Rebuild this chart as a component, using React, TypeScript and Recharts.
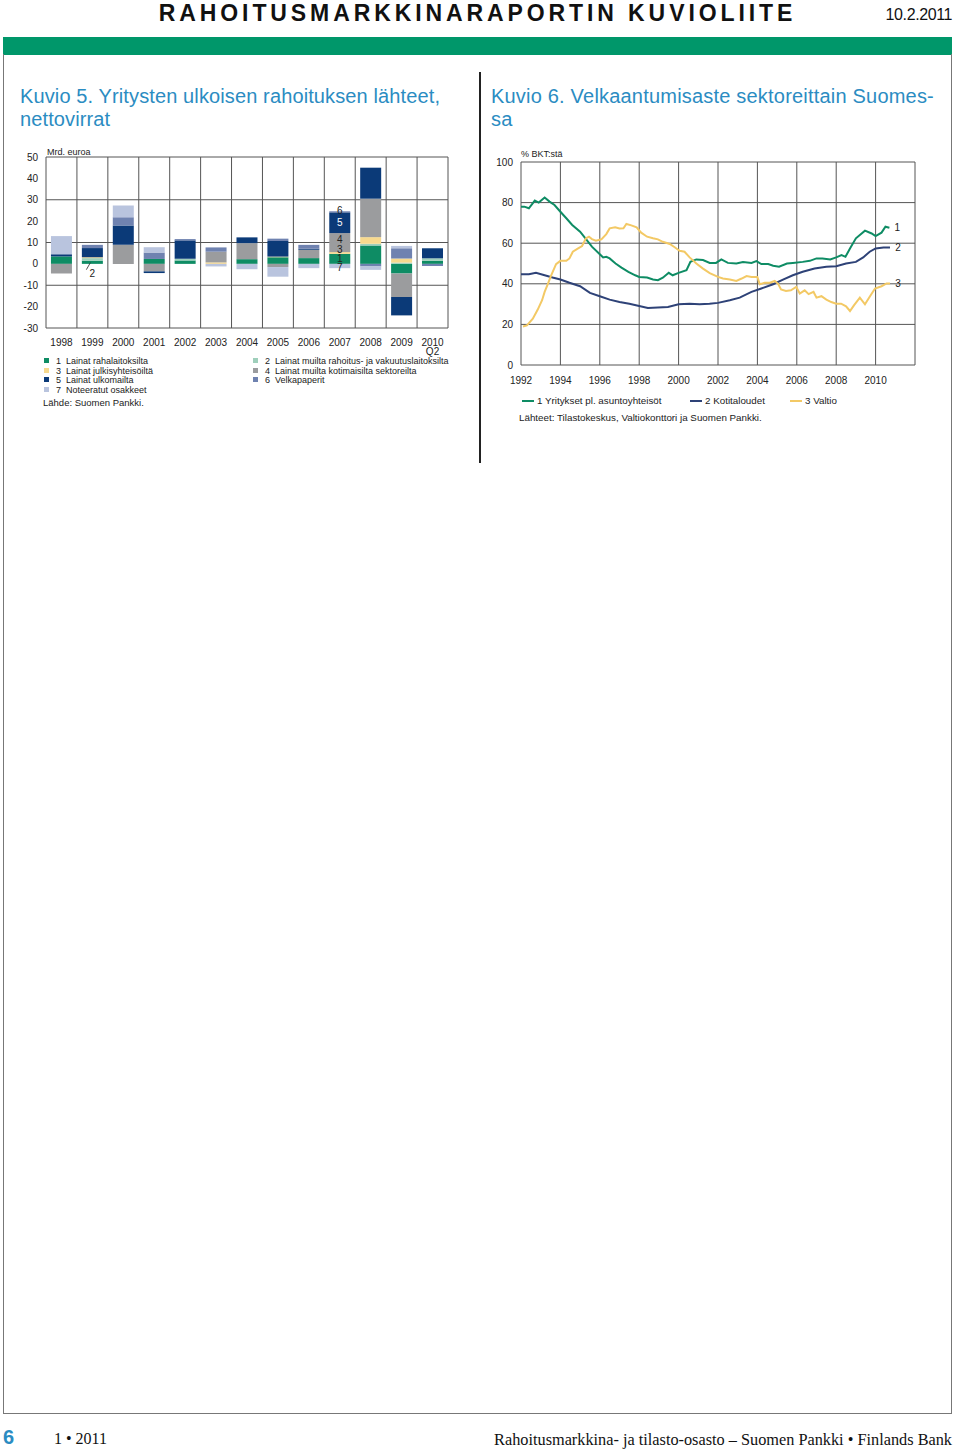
import React from "react";
import {
  BarChart,
  Bar,
  XAxis,
  YAxis,
  CartesianGrid,
  LabelList,
  LineChart,
  Line,
} from "recharts";

// Kuvio 5: net flows, bn euro
const YEARS = ["1998", "1999", "2000", "2001", "2002", "2003", "2004", "2005", "2006", "2007", "2008", "2009", "2010"];
const LOANS_MFI = [3.5, 1.5, 0, 2.3, 1.6, 0, 2.2, 3.1, 2.7, 4.7, 8.6, -4.5, 1.4];
const LOANS_OFI = [0, 1.2, 0, 0, 0.8, 0, 0, 0, 0, 0, 0.8, 0.6, 1.2];
const LOANS_PUBLIC = [0, 0.4, 0, 0, 0, 0.7, 0, 0.3, 0, 0.8, 3.1, 1.9, 0];
const LOANS_OTHER = [-4.5, 0, 8.9, -3.5, 0, 5.0, 7.5, -1.5, 3.9, 8.9, 18, -11, 0];
const LOANS_ABROAD = [1, 4.3, 9, -0.8, 8.6, 0, 2.7, 7.3, 0.5, 9.7, 14.5, -8.6, 4.7];
const DEBT_SECURITIES = [0, 1.5, 3.9, 3, 0.6, 2, 0, 1.1, 1.8, 0.5, -1.2, 4.8, -1];
const QUOTED_SHARES = [8.5, 0, 5.5, 2.5, 0, -1.2, -2.5, -4.5, -2, -2, -1.6, 1.1, 0];
const BAR_TICKS = [-30, -20, -10, 0, 10, 20, 30, 40, 50];

const BAR_SERIES = [
  { key: "s1", num: "1", name: "Lainat rahalaitoksilta", color: "#0e8c64", values: LOANS_MFI, labelYear: "2007" },
  { key: "s2", num: "2", name: "Lainat muilta rahoitus- ja vakuutuslaitoksilta", color: "#9fcfbb", values: LOANS_OFI, labelYear: "1999" },
  { key: "s3", num: "3", name: "Lainat julkisyhteisöiltä", color: "#f7d98e", values: LOANS_PUBLIC, labelYear: "2007" },
  { key: "s4", num: "4", name: "Lainat muilta kotimaisilta sektoreilta", color: "#9b9c9e", values: LOANS_OTHER, labelYear: "2007" },
  { key: "s5", num: "5", name: "Lainat ulkomailta", color: "#0b3a78", values: LOANS_ABROAD, labelYear: "2007" },
  { key: "s6", num: "6", name: "Velkapaperit", color: "#6f82b0", values: DEBT_SECURITIES, labelYear: "2007" },
  { key: "s7", num: "7", name: "Noteeratut osakkeet", color: "#b9c4de", values: QUOTED_SHARES, labelYear: "2007" },
];

// Kuvio 6: debt ratio, % of GDP
const CORP_YEARS = [1992, 1992.17, 1992.4, 1992.7, 1992.9, 1993.2, 1993.45, 1993.7, 1994, 1994.3, 1994.6, 1995, 1995.3, 1995.6, 1996, 1996.17, 1996.33, 1996.5, 1996.8, 1997.1, 1997.45, 1997.8, 1998, 1998.4, 1998.7, 1998.95, 1999.2, 1999.5, 1999.7, 2000, 2000.4, 2000.6, 2000.9, 2001.24, 2001.58, 2001.9, 2002.17, 2002.5, 2002.93, 2003.27, 2003.7, 2003.95, 2004.2, 2004.55, 2004.8, 2005.1, 2005.5, 2005.8, 2006.3, 2006.66, 2007, 2007.3, 2007.7, 2008, 2008.27, 2008.47, 2008.7, 2009, 2009.46, 2009.8, 2010, 2010.3, 2010.5, 2010.7];
const CORP_DEBT = [78, 78, 77.2, 81, 80, 82.5, 80.5, 78.8, 75.5, 72.3, 69, 65.7, 62, 58.3, 54.6, 53, 53.3, 52.5, 50, 48, 45.9, 44.2, 43.4, 43.1, 42.1, 41.8, 43, 45.4, 44.2, 45.4, 46.7, 50.8, 52, 51.7, 50.3, 50.3, 52, 50.3, 50, 50.7, 50.3, 51.2, 49.7, 49.7, 48.9, 48.4, 50, 50.3, 50.8, 51.3, 52.5, 52.5, 52, 53, 54.1, 53.3, 57.4, 62.4, 66.2, 64.8, 63.5, 65.2, 68.1, 67.6];
const HH_YEARS = [1992, 1992.4, 1992.76, 1993.2, 1993.6, 1994, 1994.46, 1995, 1995.5, 1996, 1996.5, 1997, 1997.5, 1998, 1998.44, 1998.95, 1999.46, 2000, 2000.56, 2001.07, 2001.57, 2002, 2002.6, 2003.1, 2003.7, 2004.2, 2004.8, 2005.3, 2005.8, 2006.3, 2006.9, 2007.5, 2008, 2008.5, 2009, 2009.37, 2009.7, 2010, 2010.4, 2010.73];
const HH_DEBT = [44.7, 44.7, 45.4, 44.2, 43.1, 42.1, 40.5, 38.8, 35.5, 33.9, 32.2, 31, 30.2, 29.1, 28.1, 28.3, 28.6, 29.9, 30.2, 29.9, 30.2, 30.6, 31.9, 33.2, 36, 37.7, 39.8, 42.1, 44.2, 45.9, 47.5, 48.4, 48.7, 50, 50.8, 53, 55.8, 57.4, 57.9, 57.9];
const GOV_YEARS = [1992.1, 1992.3, 1992.6, 1992.85, 1993.07, 1993.2, 1993.36, 1993.5, 1993.78, 1994, 1994.3, 1994.46, 1994.63, 1994.9, 1995.1, 1995.3, 1995.45, 1995.6, 1995.8, 1996.08, 1996.33, 1996.5, 1996.78, 1997, 1997.2, 1997.35, 1997.6, 1997.87, 1998.1, 1998.4, 1998.7, 1998.95, 1999.2, 1999.55, 1999.8, 2000.05, 2000.3, 2000.56, 2000.9, 2001.24, 2001.58, 2002, 2002.25, 2002.6, 2002.93, 2003.2, 2003.45, 2003.7, 2004, 2004.12, 2004.37, 2004.63, 2004.88, 2005.05, 2005.2, 2005.45, 2005.7, 2005.97, 2006.15, 2006.4, 2006.6, 2006.85, 2007, 2007.25, 2007.5, 2007.75, 2008, 2008.25, 2008.5, 2008.7, 2008.9, 2009.2, 2009.46, 2009.7, 2009.97, 2010.3, 2010.56, 2010.73];
const GOV_DEBT = [19, 19.5, 22.8, 27.3, 31.9, 36, 39.8, 43.4, 49.7, 51.3, 51.3, 52.5, 55.8, 57.4, 58.6, 62.4, 63.2, 62, 61.2, 61.9, 64.5, 67.3, 67.8, 67.2, 67.3, 69.5, 68.8, 67.8, 65.2, 63.2, 62.4, 61.9, 60.7, 59.6, 58, 56.3, 55.8, 53, 50, 47.5, 45.3, 43.4, 42.6, 42.1, 41.4, 42.6, 43.8, 43.4, 43.4, 39.8, 40.5, 40.5, 41.4, 40, 37.2, 36.5, 36.8, 38.5, 35.2, 36.8, 34.9, 36, 33.2, 33.9, 32.2, 31, 30.2, 30.2, 28.9, 26.6, 29.4, 33.2, 29.9, 33.6, 37.7, 38.8, 40.2, 40.2];
const LINE_X_TICKS = [1992, 1994, 1996, 1998, 2000, 2002, 2004, 2006, 2008, 2010, 2012];
const LINE_Y_TICKS = [0, 20, 40, 60, 80, 100];

const LINE_SERIES = [
  { num: "1", name: "Yritykset pl. asuntoyhteisöt", color: "#0e8c64", years: CORP_YEARS, values: CORP_DEBT },
  { num: "2", name: "Kotitaloudet", color: "#2e4277", years: HH_YEARS, values: HH_DEBT },
  { num: "3", name: "Valtio", color: "#f3c965", years: GOV_YEARS, values: GOV_DEBT },
];

const barData = YEARS.map((year, i) => {
  const row: Record<string, string | number> = { year };
  BAR_SERIES.forEach((s) => {
    row[s.key] = s.values[i];
    row[s.key + "_lbl"] = s.labelYear === year ? s.num : "";
  });
  return row;
});

const SANS = '"Liberation Sans", Arial, sans-serif';
const TEXT = "#222";
const GRID = "#555";
const TITLE_BLUE = "#2b8cc2";

const BarTick = ({ x, y, payload }: any) => (
  <text x={x} y={y} textAnchor="middle" fontSize={10} fill={TEXT} fontFamily={SANS}>
    <tspan x={x} dy={18}>{payload.value}</tspan>
    {payload.value === "2010" && <tspan x={x} dy={9}>Q2</tspan>}
  </text>
);

const LABEL_STYLE: Record<string, [number, string]> = {
  "1": [0, TEXT],
  "3": [-3, TEXT],
  "4": [-3, TEXT],
  "5": [0, "#fff"],
  "6": [-1, TEXT],
  "7": [1, TEXT],
};

// series numbers written on the bars
const BarNumber = (props: any) => {
  const { x, y, width, height, value } = props;
  if (!value) return null;
  const top = Math.min(y, y + height);
  const h = Math.abs(height);
  const cx = x + width / 2;
  if (value === "2") {
    const b = top + h;
    return (
      <g>
        <line x1={cx - 6} y1={b + 9} x2={cx - 2} y2={b + 2} stroke={TEXT} strokeWidth={0.8} />
        <text x={cx} y={b + 12.5} textAnchor="middle" dominantBaseline="central" fontSize={10} fill={TEXT} fontFamily={SANS}>2</text>
      </g>
    );
  }
  const [dy, fill] = LABEL_STYLE[value];
  return (
    <text x={cx} y={top + h / 2 + dy} textAnchor="middle" dominantBaseline="central" fontSize={10} fill={fill} fontFamily={SANS}>
      {value}
    </text>
  );
};

const endLabel = (num: string, last: number) => (props: any) => {
  const { x, y, index } = props;
  if (index !== last) return null;
  return (
    <text x={x + 8} y={y} textAnchor="middle" dominantBaseline="central" fontSize={10} fill={TEXT} fontFamily={SANS}>
      {num}
    </text>
  );
};

const FlowsChart = () => (
  <BarChart
    width={460}
    height={220}
    data={barData}
    margin={{ top: 17, right: 12, left: 0, bottom: 0 }}
    stackOffset="sign"
    barCategoryGap="16%"
  >
    <CartesianGrid
      stroke={GRID}
      strokeWidth={1}
      verticalCoordinatesGenerator={({ offset }: any) =>
        YEARS.concat("end").map((_, i) => offset.left + (i * offset.width) / YEARS.length)
      }
    />
    <XAxis dataKey="year" tick={<BarTick />} tickLine={false} axisLine={false} height={32} tickSize={0} tickMargin={0} interval={0} />
    <YAxis
      domain={[-30, 50]}
      ticks={BAR_TICKS}
      width={46}
      tickLine={false}
      axisLine={false}
      tick={{ fontSize: 10, fill: TEXT, fontFamily: SANS }}
    />
    {BAR_SERIES.map((s) => (
      <Bar key={s.key} dataKey={s.key} stackId="a" fill={s.color} isAnimationActive={false}>
        <LabelList dataKey={s.key + "_lbl"} content={<BarNumber />} />
      </Bar>
    ))}
  </BarChart>
);

const DebtChart = () => (
  <LineChart width={450} height={250} margin={{ top: 22, right: 15, left: 0, bottom: 0 }}>
    <CartesianGrid stroke={GRID} strokeWidth={1} />
    <XAxis
      type="number"
      dataKey="x"
      domain={[1992, 2012]}
      ticks={LINE_X_TICKS}
      tickFormatter={(v: number) => (v === 2012 ? "" : String(v))}
      tickLine={false}
      axisLine={false}
      tickMargin={6}
      height={25}
      allowDuplicatedCategory={false}
      tick={{ fontSize: 10, fill: TEXT, fontFamily: SANS }}
    />
    <YAxis
      domain={[0, 100]}
      ticks={LINE_Y_TICKS}
      width={41}
      tickLine={false}
      axisLine={false}
      tick={{ fontSize: 10, fill: TEXT, fontFamily: SANS }}
    />
    {LINE_SERIES.map((s) => (
      <Line
        key={s.num}
        data={s.years.map((x, i) => ({ x, y: s.values[i] }))}
        dataKey="y"
        type="linear"
        stroke={s.color}
        strokeWidth={2}
        dot={false}
        isAnimationActive={false}
      >
        <LabelList content={endLabel(s.num, s.years.length - 1)} />
      </Line>
    ))}
  </LineChart>
);

const abs = (left: number, top: number, extra: React.CSSProperties = {}): React.CSSProperties => ({
  position: "absolute",
  left,
  top,
  ...extra,
});

export default function App() {
  const leftCol = [BAR_SERIES[0], BAR_SERIES[2], BAR_SERIES[4], BAR_SERIES[6]];
  const rightCol = [BAR_SERIES[1], BAR_SERIES[3], BAR_SERIES[5]];
  const legendRow = (s: (typeof BAR_SERIES)[number], left: number, i: number) => (
    <div key={s.key} style={abs(left, 356 + i * 9.6, { height: 10, fontSize: 9, lineHeight: "10px", color: TEXT, whiteSpace: "nowrap" })}>
      <span style={{ position: "absolute", left: 0, top: 2, width: 5, height: 5, background: s.color }} />
      <span style={{ position: "absolute", left: 12 }}>{s.num}</span>
      <span style={{ position: "absolute", left: 22 }}>{s.name}</span>
    </div>
  );
  const title: React.CSSProperties = { fontSize: 20, lineHeight: "23px", color: TITLE_BLUE, whiteSpace: "nowrap" };

  return (
    <div style={{ position: "absolute", left: 0, top: 0, width: 960, height: 1450, background: "#fff", fontFamily: SANS, overflow: "hidden" }}>
      <div style={abs(0, 0, { width: 955, textAlign: "center", fontSize: 23, fontWeight: "bold", letterSpacing: 3.9, lineHeight: "26px", color: "#111" })}>
        RAHOITUSMARKKINARAPORTIN KUVIOLIITE
      </div>
      <div style={abs(850, 6, { width: 102, textAlign: "right", fontSize: 16, color: "#111", letterSpacing: -0.4 })}>10.2.2011</div>
      <div style={abs(3, 37, { width: 949, height: 18, background: "#00976a" })} />
      <div style={abs(3, 54, { width: 949, height: 1360, border: "1px solid #777", borderTop: "none", boxSizing: "border-box" })} />
      <div style={abs(479, 72, { width: 2, height: 391, background: "#222" })} />

      <div style={abs(20, 85, { ...title, letterSpacing: 0.12 })}>
        Kuvio 5. Yritysten ulkoisen rahoituksen lähteet,
        <br />
        nettovirrat
      </div>
      <div style={abs(491, 85, { ...title, letterSpacing: 0.2 })}>
        Kuvio 6. Velkaantumisaste sektoreittain Suomes-
        <br />
        sa
      </div>

      <div style={abs(47, 147, { fontSize: 9, color: TEXT })}>Mrd. euroa</div>
      <div style={abs(0, 140)}>
        <FlowsChart />
      </div>
      {leftCol.map((s, i) => legendRow(s, 44, i))}
      {rightCol.map((s, i) => legendRow(s, 253, i))}
      <div style={abs(43, 397, { fontSize: 9.5, color: TEXT })}>Lähde: Suomen Pankki.</div>

      <div style={abs(521, 149, { fontSize: 9, color: TEXT })}>% BKT:stä</div>
      <div style={abs(480, 140)}>
        <DebtChart />
      </div>
      {LINE_SERIES.map((s, i) => (
        <div key={s.num} style={abs([522, 690, 790][i], 395, { height: 12, fontSize: 9.8, lineHeight: "12px", color: TEXT, whiteSpace: "nowrap" })}>
          <span style={{ position: "absolute", left: 0, top: 5, width: 12, height: 2, background: s.color }} />
          <span style={{ position: "absolute", left: 15 }}>{s.num + " " + s.name}</span>
        </div>
      ))}
      <div style={abs(519, 412, { fontSize: 9.8, color: TEXT, whiteSpace: "nowrap" })}>
        Lähteet: Tilastokeskus, Valtiokonttori ja Suomen Pankki.
      </div>

      <div style={abs(3, 1426, { fontSize: 20, fontWeight: "bold", color: TITLE_BLUE })}>6</div>
      <div style={abs(54, 1430, { fontSize: 16, fontFamily: '"Liberation Serif", serif', color: "#111" })}>1 • 2011</div>
      <div style={abs(430, 1430, { width: 522, textAlign: "right", fontSize: 16.3, fontFamily: '"Liberation Serif", serif', color: "#111", whiteSpace: "nowrap" })}>
        Rahoitusmarkkina- ja tilasto-osasto – Suomen Pankki • Finlands Bank
      </div>
    </div>
  );
}
